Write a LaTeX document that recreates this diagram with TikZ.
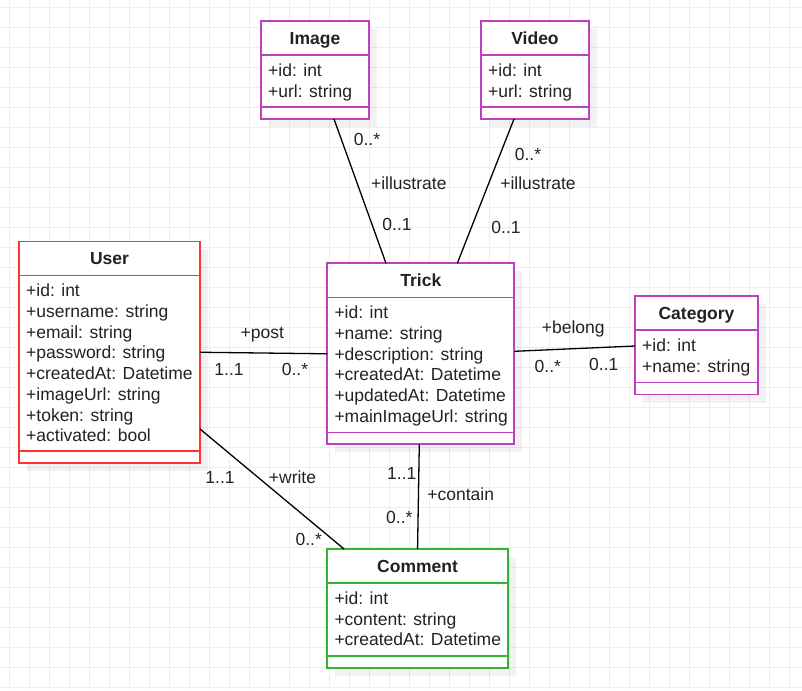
\documentclass[tikz,border=0pt]{standalone}
\usepackage{fontspec}
\setmainfont{Liberation Sans}
\usetikzlibrary{shadows}
\definecolor{userred}{HTML}{FF3333}
\definecolor{classpurple}{HTML}{BF40BF}
\definecolor{commentgreen}{HTML}{33B533}
\definecolor{gridgray}{HTML}{EDEDED}
\definecolor{textgray}{HTML}{222222}

\begin{document}
\begin{tikzpicture}[x=1pt,y=-1pt]
        \tikzset{Class/.style={%
                shape=rectangle,%
                fill=white,%
                line width=1.8pt,%
                inner sep=0pt,%
                outer sep=0pt,%
                anchor=north west,%
                drop shadow={shadow xshift=8pt, shadow yshift=-8pt, fill=black, opacity=0.05},%
            }}
        \tikzset{Title/.style={%
                font=\fontsize{17.5}{20.7}\selectfont\bfseries,%
                text=textgray,%
                inner sep=0pt,%
                text height=12.6pt,%
                text depth=0pt,%
            }}
        \tikzset{Attrs/.style={%
                font=\fontsize{17.5}{20.7}\selectfont,%
                text=textgray,%
                inner sep=0pt,%
                align=left,%
                anchor=north west,%
            }}
        \tikzset{Role/.style={%
                font=\fontsize{17.5}{20.7}\selectfont,%
                text=textgray,%
                inner sep=0pt,%
                text height=12.6pt,%
                text depth=0pt,%
            }}
        \tikzset{Rule/.style={line width=1.5pt}}
        \tikzset{Assoc/.style={line width=1.3pt, draw=black}}

        \useasboundingbox (0,0) rectangle (802,690);

        % background grid
        \foreach \gx in {9,29,...,789}
            \draw[gridgray, line width=0.9pt] (\gx,0) -- (\gx,690);
        \foreach \gy in {7,27,...,687}
            \draw[gridgray, line width=0.9pt] (0,\gy) -- (802,\gy);

        % classes
        \node[Class, draw=classpurple, minimum width=108pt, minimum height=98pt] (image) at (261,21) {};
        \draw[Rule, classpurple] ([yshift=-34pt]image.north west) -- ([yshift=-34pt]image.north east);
        \draw[Rule, classpurple] ([yshift=12pt]image.south west) -- ([yshift=12pt]image.south east);
        \node[Title] (image-title) at ([yshift=-17pt]image.north) {Image};
        \node[Attrs] (image-attrs) at ([xshift=7pt, yshift=-42.5pt]image.north west) {+id: int\\+url: string};

        \node[Class, draw=classpurple, minimum width=108pt, minimum height=98pt] (video) at (481,21) {};
        \draw[Rule, classpurple] ([yshift=-34pt]video.north west) -- ([yshift=-34pt]video.north east);
        \draw[Rule, classpurple] ([yshift=12pt]video.south west) -- ([yshift=12pt]video.south east);
        \node[Title] (video-title) at ([yshift=-17pt]video.north) {Video};
        \node[Attrs] (video-attrs) at ([xshift=7pt, yshift=-42.5pt]video.north west) {+id: int\\+url: string};

        \node[Class, draw=userred, minimum width=181pt, minimum height=221.5pt] (user) at (19,241.5) {};
        \draw[Rule, userred] ([yshift=-34pt]user.north west) -- ([yshift=-34pt]user.north east);
        \draw[Rule, userred] ([yshift=12pt]user.south west) -- ([yshift=12pt]user.south east);
        \node[Title] (user-title) at ([yshift=-17pt]user.north) {User};
        \node[Attrs] (user-attrs) at ([xshift=7pt, yshift=-42.5pt]user.north west)
            {+id: int\\+username: string\\+email: string\\+password: string\\+createdAt: Datetime\\+imageUrl: string\\+token: string\\+activated: bool};

        \node[Class, draw=classpurple, minimum width=187pt, minimum height=181pt] (trick) at (327.3,263.3) {};
        \draw[Rule, classpurple] ([yshift=-34pt]trick.north west) -- ([yshift=-34pt]trick.north east);
        \draw[Rule, classpurple] ([yshift=12pt]trick.south west) -- ([yshift=12pt]trick.south east);
        \node[Title] (trick-title) at ([yshift=-17pt]trick.north) {Trick};
        \node[Attrs] (trick-attrs) at ([xshift=7pt, yshift=-42.5pt]trick.north west)
            {+id: int\\+name: string\\+description: string\\+createdAt: Datetime\\+updatedAt: Datetime\\+mainImageUrl: string};

        \node[Class, draw=classpurple, minimum width=123pt, minimum height=98.5pt] (category) at (635,296) {};
        \draw[Rule, classpurple] ([yshift=-34pt]category.north west) -- ([yshift=-34pt]category.north east);
        \draw[Rule, classpurple] ([yshift=12pt]category.south west) -- ([yshift=12pt]category.south east);
        \node[Title] (category-title) at ([yshift=-17pt]category.north) {Category};
        \node[Attrs] (category-attrs) at ([xshift=7pt, yshift=-42.5pt]category.north west) {+id: int\\+name: string};

        \node[Class, draw=commentgreen, minimum width=180.5pt, minimum height=119pt] (comment) at (327.3,549) {};
        \draw[Rule, commentgreen] ([yshift=-34pt]comment.north west) -- ([yshift=-34pt]comment.north east);
        \draw[Rule, commentgreen] ([yshift=12pt]comment.south west) -- ([yshift=12pt]comment.south east);
        \node[Title] (comment-title) at ([yshift=-17pt]comment.north) {Comment};
        \node[Attrs] (comment-attrs) at ([xshift=7pt, yshift=-42.5pt]comment.north west)
            {+id: int\\+content: string\\+createdAt: Datetime};

        % associations
        \draw[Assoc] ([xshift=19pt]image.south) -- ([xshift=-34.8pt]trick.north);
        \draw[Assoc] ([xshift=-21pt]video.south) -- ([xshift=36.5pt]trick.north);
        \draw[Assoc] (user.east) -- (trick.west);
        \draw[Assoc] ([yshift=2.5pt]trick.east) -- ([yshift=-0.75pt]category.west);
        \draw[Assoc] ([yshift=-76.75pt]user.east) -- ([xshift=-73.5pt]comment.north);
        \draw[Assoc] ([xshift=-1.5pt]trick.south) -- (comment.north);

        % roles and multiplicities
        \node[Role] (image-many) at (367,139.3) {0..*};
        \node[Role] (image-role) at (408.8,183.3) {+illustrate};
        \node[Role] (image-one) at (397,224.3) {0..1};

        \node[Role] (video-many) at (528,154.3) {0..*};
        \node[Role] (video-role) at (538,183.3) {+illustrate};
        \node[Role] (video-one) at (506,226.7) {0..1};

        \node[Role] (post-role) at (262.3,331.7) {+post};
        \node[Role] (post-one) at (229,369) {1..1};
        \node[Role] (post-many) at (295,369) {0..*};

        \node[Role] (belong-role) at (573.3,326.7) {+belong};
        \node[Role] (belong-many) at (547.8,366) {0..*};
        \node[Role] (belong-one) at (603.8,364.3) {0..1};

        \node[Role] (write-one) at (220,476.7) {1..1};
        \node[Role] (write-role) at (292.5,476.7) {+write};
        \node[Role] (write-many) at (308.7,539.3) {0..*};

        \node[Role] (contain-one) at (401.8,473.3) {1..1};
        \node[Role] (contain-role) at (460.7,494.3) {+contain};
        \node[Role] (contain-many) at (399.3,517.3) {0..*};
\end{tikzpicture}
\end{document}
